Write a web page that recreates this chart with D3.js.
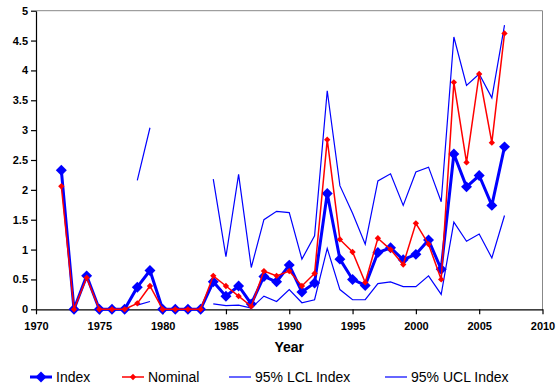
<!DOCTYPE html>
<html><head><meta charset="utf-8">
<script src="https://cdn.jsdelivr.net/npm/d3@7"></script>
<style>body{margin:0;background:#fff;} svg{display:block;font-family:"Liberation Sans",Arial,sans-serif;}</style>
</head><body><svg id="c" width="558" height="387"></svg>
<script>
const years = d3.range(1972, 2008);
const indexVals = [2.33,0,0.56,0,0,0,0.37,0.65,0,0,0,0,0.46,0.22,0.39,0.09,0.55,0.46,0.74,0.29,0.44,1.94,0.84,0.50,0.40,0.95,1.03,0.83,0.92,1.16,0.67,2.60,2.05,2.24,1.74,2.72];
const nominalVals = [2.06,0,0.53,0,0,0,0.10,0.39,0,0,0,0,0.56,0.39,0.22,0.05,0.64,0.56,0.64,0.39,0.60,2.84,1.17,0.96,0.45,1.19,1.00,0.75,1.44,1.09,0.50,3.80,2.46,3.94,2.79,4.62];
const lclVals = [null,null,null,null,null,null,0.07,0.13,null,null,null,null,0.09,0.06,0.07,0.02,0.22,0.13,0.33,0.11,0.16,1.02,0.33,0.16,0.16,0.43,0.46,0.38,0.38,0.56,0.25,1.46,1.14,1.26,0.86,1.57];
const uclVals = [null,null,null,null,null,null,2.16,3.04,null,null,null,null,2.18,0.88,2.26,0.70,1.50,1.64,1.62,0.84,1.23,3.66,2.07,1.61,1.09,2.15,2.27,1.74,2.30,2.38,1.80,4.56,3.75,3.94,3.54,4.76];
const xTicks = [1970,1975,1980,1985,1990,1995,2000,2005,2010];
const yTicks = [0,0.5,1,1.5,2,2.5,3,3.5,4,4.5,5];
const legendLabels = ["Index","Nominal","95% LCL Index","95% UCL Index"];

const svg = d3.select("#c");
const L=36, R=542.5, T=10.7, B=309.3;
const x = d3.scaleLinear().domain([1970,2010]).range([L,R]);
const y = d3.scaleLinear().domain([0,5]).range([B,T]);

svg.append("path").attr("d",`M${L},${T}H${R}V${B}`).attr("fill","none").attr("stroke","#888").attr("stroke-width",1);

const xa = svg.append("g").attr("transform",`translate(0,${B})`)
  .call(d3.axisBottom(x).tickValues(xTicks).tickFormat(d3.format("d")).tickSizeInner(5).tickSizeOuter(0).tickPadding(8));
const ya = svg.append("g").attr("transform",`translate(${L},0)`)
  .call(d3.axisLeft(y).tickValues(yTicks).tickFormat(d=>String(d)).tickSizeInner(5).tickSizeOuter(0).tickPadding(3));
[xa,ya].forEach(a=>{
  a.selectAll("path,line").attr("stroke","#000").attr("stroke-width",1.2);
  a.selectAll("text").attr("font-size",11).attr("font-weight","bold").attr("fill","#000").attr("font-family","Liberation Sans, Arial, sans-serif");
});

svg.append("text").attr("x",(L+R)/2).attr("y",352).attr("text-anchor","middle")
  .attr("font-size",14).attr("font-weight","bold").text("Year");

const mk = vals => years.map((yr,i)=>({yr, v: vals[i]}));
const line = d3.line().defined(d=>d.v!==null).x(d=>x(d.yr)).y(d=>y(d.v));

[uclVals, lclVals].forEach(v=>{
  svg.append("path").datum(mk(v)).attr("d",line).attr("fill","none").attr("stroke","#0000ff").attr("stroke-width",1.2);
});

svg.append("path").datum(mk(indexVals)).attr("d",line).attr("fill","none").attr("stroke","#0000ff").attr("stroke-width",3);
svg.append("g").selectAll("path").data(mk(indexVals)).join("path")
  .attr("d",d3.symbol().type(d3.symbolSquare).size(60)()).attr("transform",d=>`translate(${x(d.yr)},${y(d.v)}) rotate(45)`)
  .attr("fill","#0000ff");
svg.append("path").datum(mk(nominalVals)).attr("d",line).attr("fill","none").attr("stroke","#ff0000").attr("stroke-width",1.5);
svg.append("g").selectAll("path").data(mk(nominalVals)).join("path")
  .attr("d",d3.symbol().type(d3.symbolSquare).size(20)()).attr("transform",d=>`translate(${x(d.yr)},${y(d.v)}) rotate(45)`)
  .attr("fill","#ff0000");

const ly = 377;
const items = [
  {lx:30, tx:56, color:"#0000ff", w:3, m:60},
  {lx:122, tx:148, color:"#ff0000", w:1.5, m:20},
  {lx:229, tx:255, color:"#0000ff", w:1.2, m:0},
  {lx:385, tx:411, color:"#0000ff", w:1.2, m:0}
];
items.forEach((it,i)=>{
  const g = svg.append("g");
  g.append("line").attr("x1",it.lx).attr("x2",it.lx+22).attr("y1",ly).attr("y2",ly).attr("stroke",it.color).attr("stroke-width",it.w);
  if(it.m) g.append("path").attr("d",d3.symbol().type(d3.symbolSquare).size(it.m)()).attr("transform",`translate(${it.lx+11},${ly}) rotate(45)`).attr("fill",it.color);
  g.append("text").attr("x",it.tx).attr("y",ly+5).attr("font-size",14).attr("fill","#000").text(legendLabels[i]);
});
</script></body></html>
